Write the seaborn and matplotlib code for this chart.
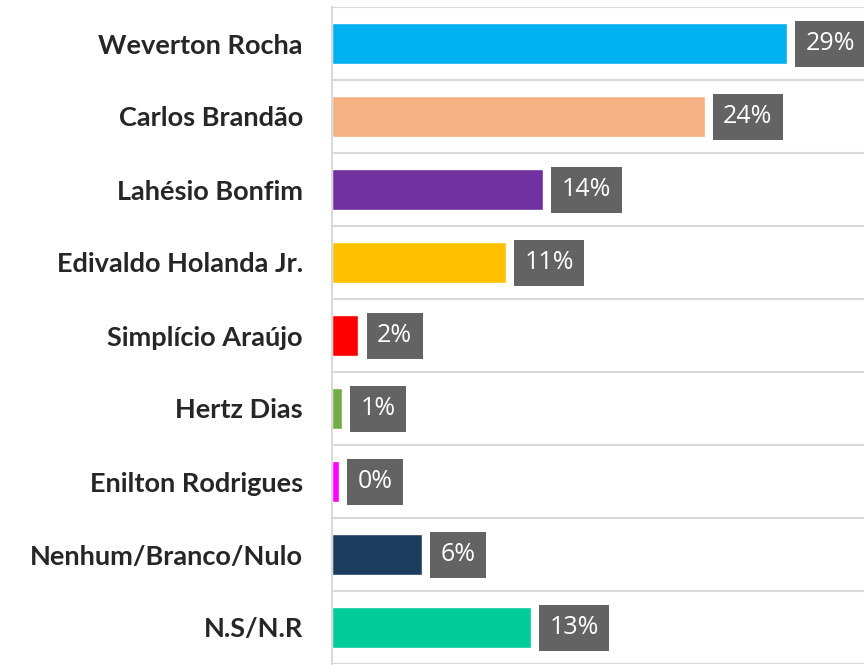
import matplotlib
matplotlib.use("Agg")
import matplotlib.pyplot as plt
import seaborn as sns
import pandas as pd

candidates = ["Weverton Rocha", "Carlos Brandão", "Lahésio Bonfim", "Edivaldo Holanda Jr.",
              "Simplício Araújo", "Hertz Dias", "Enilton Rodrigues", "Nenhum/Branco/Nulo", "N.S/N.R"]
values = [29.3, 24.0, 13.6, 11.2, 1.7, 0.65, 0.45, 5.8, 12.8]
labels = ["29%", "24%", "14%", "11%", "2%", "1%", "0%", "6%", "13%"]
colors = ["#00B0F0", "#F4B183", "#7030A0", "#FFC000", "#FF0000", "#70AD47", "#FF00FF", "#1D3D5F", "#00CC99"]

df = pd.DataFrame({"cand": candidates, "val": values})

sns.set_theme(style="white")
plt.rcParams['font.family'] = ['Lato', 'DejaVu Sans']

fig = plt.figure(figsize=(8.64, 6.65), dpi=100)
ax = fig.add_axes([332/864, 1 - 664/665, 1 - 332/864 + 0.01, 657/665])

sns.barplot(data=df, x="val", y="cand", hue="cand", palette=colors, legend=False,
            width=0.56, ax=ax, saturation=1)

ax.set_xlim(0, (864 - 332) / 15.5 + 0.5)
ax.set_ylim(len(candidates) - 0.5, -0.5)
ax.set_xlabel("")
ax.set_ylabel("")
ax.set_xticks([])
for i in range(len(candidates) + 1):
    ax.axhline(i - 0.5, color="#D9D9D9", lw=1.5, zorder=0)
for s in ["top", "right", "bottom"]:
    ax.spines[s].set_visible(False)
ax.spines["left"].set_color("#D9D9D9")
ax.spines["left"].set_linewidth(1.5)

ax.tick_params(axis="y", length=0, pad=21)
for t in ax.get_yticklabels():
    t.set_fontweight("bold")
    t.set_fontsize(19.5)
    t.set_color("#262626")

for i, (v, lab) in enumerate(zip(values, labels)):
    ax.annotate(lab, xy=(v, i), xytext=(13.4, 0), textcoords="offset points",
                ha="left", va="center", fontsize=18, color="white", family=["Open Sans", "DejaVu Sans"],
                bbox=dict(boxstyle="square,pad=0.42", fc="#636363", ec="none"))

fig.savefig("out.png", dpi=100)
